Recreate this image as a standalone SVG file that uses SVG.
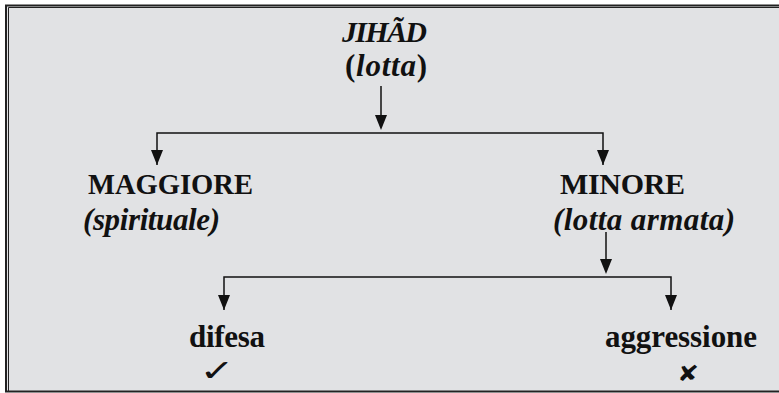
<svg xmlns="http://www.w3.org/2000/svg" width="779" height="393" viewBox="0 0 779 393">
<defs>
<style>
.t{font-family:"Liberation Serif","Times New Roman",serif;font-weight:bold;font-size:30px;fill:#111}
.l{font-size:31px}
.i{font-style:italic}
.sym{font-family:"DejaVu Sans",sans-serif;fill:#111}
.c{fill:none;stroke:#111;stroke-width:1.5}
</style>
</defs>
<rect x="0" y="0" width="779" height="393" fill="#fff"/>
<rect x="6" y="5.5" width="790" height="386" fill="#e1e2e4" stroke="#222" stroke-width="2"/>
<path d="M8.5,391 V7.5 H779" fill="none" stroke="#222" stroke-width="1"/>
<g id="connectors">
<path class="c" d="M381,86 V115"/>
<path d="M375,115 L387,115 L381,130 Z" fill="#111"/>
<path class="c" d="M157,165 V133 H603 V165" />
<path d="M151,150 L163,150 L157,165 Z M597,150 L609,150 L603,165 Z" fill="#111"/>
<path class="c" d="M606,232 V259"/>
<path d="M600,259 L612,259 L606,274 Z" fill="#111"/>
<path class="c" d="M224,310 V277 H671 V310"/>
<path d="M218,295 L230,295 L224,310 Z M665,295 L677,295 L671,310 Z" fill="#111"/>
</g>
<g id="jihad">
<text class="t i" x="342" y="42" textLength="85" lengthAdjust="spacing" font-weight="600">JIHÃD</text>
<text class="t l" x="345" y="76" textLength="82" lengthAdjust="spacing">(<tspan class="i">lotta</tspan>)</text>
</g>
<g id="maggiore">
<text class="t" x="88" y="194" textLength="165" lengthAdjust="spacingAndGlyphs">MAGGIORE</text>
<text class="t i l" x="83" y="230" textLength="137" lengthAdjust="spacing">(spirituale)</text>
</g>
<g id="minore">
<text class="t" x="560" y="194" textLength="125" lengthAdjust="spacing">MINORE</text>
<text class="t i l" x="553" y="230" textLength="182" lengthAdjust="spacing">(lotta armata)</text>
</g>
<g id="difesa">
<text class="t l" x="189" y="347" textLength="76" lengthAdjust="spacing">difesa</text>
<text class="sym" transform="translate(217,381) scale(1.4,1)" font-size="30" text-anchor="middle">✓</text>
</g>
<g id="aggressione">
<text class="t l" x="605" y="347" textLength="152" lengthAdjust="spacing">aggressione</text>
<text class="sym" transform="translate(688,381) scale(1.2,1)" font-size="22" text-anchor="middle">✘</text>
</g>
</svg>
